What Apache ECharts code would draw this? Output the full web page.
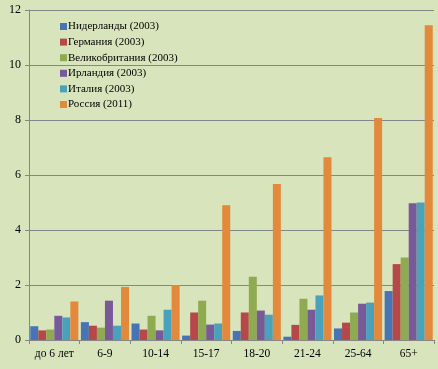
<!DOCTYPE html>
<html><head><meta charset="utf-8">
<script src="https://cdn.jsdelivr.net/npm/echarts@6/dist/echarts.min.js"></script>
<style>html,body{margin:0;padding:0;background:#d8e4bc;}#c{width:438px;height:369px;}</style>
</head><body><div id="c"></div>
<script>
const categories = ['до 6 лет','6-9','10-14','15-17','18-20','21-24','25-64','65+'];
const seriesNames = ['Нидерланды (2003)','Германия (2003)','Великобритания (2003)','Ирландия (2003)','Италия (2003)','Россия (2011)'];
const netherlands = [0.50, 0.65, 0.60, 0.16, 0.33, 0.12, 0.42, 1.78];
const germany     = [0.35, 0.52, 0.38, 1.00, 1.00, 0.55, 0.63, 2.76];
const britain     = [0.38, 0.45, 0.88, 1.43, 2.30, 1.50, 1.00, 3.00];
const ireland     = [0.88, 1.43, 0.35, 0.56, 1.07, 1.10, 1.32, 4.97];
const italy       = [0.82, 0.52, 1.10, 0.60, 0.92, 1.62, 1.36, 5.00];
const russia      = [1.40, 1.93, 2.00, 4.90, 5.67, 6.65, 8.07, 11.45];
const yTicks = {min: 0, max: 12, interval: 2};
const colors = ['#4674b4','#b6484a','#8fab52','#785a98','#4aa1bb','#e2893c'];
const allData = [netherlands, germany, britain, ireland, italy, russia];

const chart = echarts.init(document.getElementById('c'), null, {renderer:'canvas'});
const font = 'Liberation Serif';
chart.setOption({
  backgroundColor: '#d8e4bc',
  animation: false,
  color: colors,
  grid: {left: 29, right: 4, top: 10, bottom: 29, containLabel: false},
  legend: {
    orient: 'vertical', left: 60, top: 20, padding: 0,
    itemWidth: 7, itemHeight: 7, itemGap: 2.6, icon: 'rect',
    textStyle: {fontFamily: font, fontSize: 11, lineHeight: 13, color: '#000', padding: [0,0,0,-4]},
    data: seriesNames
  },
  xAxis: {
    type: 'category', data: categories,
    axisLine: {lineStyle: {color: '#868686'}},
    axisTick: {show: true, length: 4, lineStyle: {color: '#868686'}},
    axisLabel: {interval: 0, fontFamily: font, fontSize: 11.5, color: '#000', margin: 8}
  },
  yAxis: {
    type: 'value', min: yTicks.min, max: yTicks.max, interval: yTicks.interval,
    axisLine: {show: true, lineStyle: {color: '#868686'}},
    axisTick: {show: true, length: 4, lineStyle: {color: '#868686'}},
    splitLine: {lineStyle: {color: '#868686', width: 1}},
    axisLabel: {fontFamily: font, fontSize: 12, color: '#000', margin: 8}
  },
  series: allData.map((d, i) => ({
    name: seriesNames[i], type: 'bar', data: d,
    barGap: '0%', barCategoryGap: '5%'
  }))
});
</script></body></html>
